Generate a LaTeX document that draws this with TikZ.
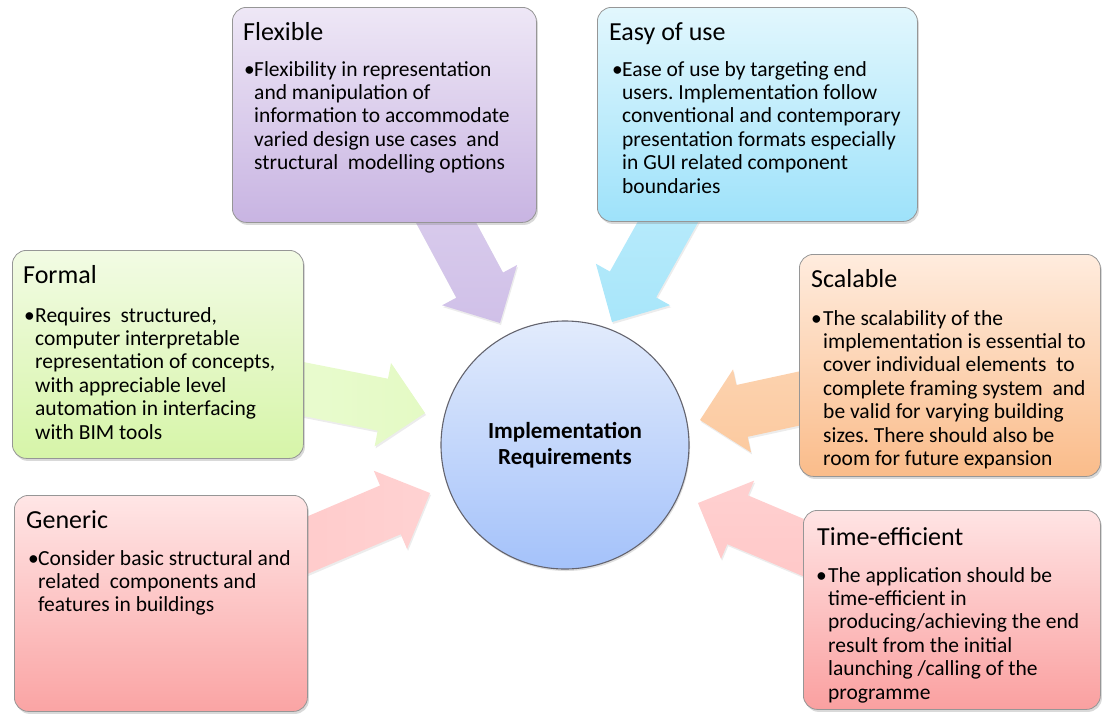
\documentclass[tikz,border=0pt]{standalone}
\usepackage{fontspec}
\setmainfont{Carlito}
\usetikzlibrary{calc,shadows}
\frenchspacing
\definecolor{boxline}{RGB}{150,150,150}
\definecolor{flexT}{RGB}{238,231,246}
\definecolor{flexB}{RGB}{200,180,226}
\definecolor{flexA}{RGB}{208,192,232}
\definecolor{easyT}{RGB}{226,247,253}
\definecolor{easyB}{RGB}{158,226,250}
\definecolor{easyA}{RGB}{168,230,250}
\definecolor{formT}{RGB}{242,251,228}
\definecolor{formB}{RGB}{214,245,168}
\definecolor{formA}{RGB}{228,250,196}
\definecolor{scalT}{RGB}{255,236,222}
\definecolor{scalB}{RGB}{250,188,138}
\definecolor{scalA}{RGB}{252,202,160}
\definecolor{geneT}{RGB}{255,230,230}
\definecolor{geneB}{RGB}{250,164,164}
\definecolor{geneA}{RGB}{255,202,202}
\definecolor{timeT}{RGB}{255,228,228}
\definecolor{timeB}{RGB}{250,160,160}
\definecolor{timeA}{RGB}{255,200,200}
\definecolor{circT}{RGB}{226,235,252}
\definecolor{circB}{RGB}{164,194,250}
\definecolor{circL}{RGB}{100,100,110}
\newcommand\btext[1]{\parbox[t]{330pt}{\raggedright\frenchspacing #1}}
\newcommand\blockarrow[3]{%
  \coordinate (#1-neck) at ($(#2)!43pt!(#1)$);
  \path[#3] ($(#1)!26.5pt!90:(#2)$)
    -- ($(#1-neck)!26.5pt!-90:(#1)$)
    -- ($(#1-neck)!42.5pt!-90:(#1)$)
    -- (#2)
    -- ($(#1-neck)!42.5pt!90:(#1)$)
    -- ($(#1-neck)!26.5pt!90:(#1)$)
    -- ($(#1)!26.5pt!-90:(#2)$) -- cycle;}
\begin{document}
\begin{tikzpicture}[x=1pt,y=-1pt,
  box/.style={draw=boxline, line width=0.8pt, rounded corners=14pt, anchor=north west,
    inner sep=0pt, drop shadow={opacity=0.3, shadow xshift=1.5pt, shadow yshift=-2.5pt}},
  ttl/.style={anchor=base west, inner sep=0pt, font=\fontsize{26}{30}\selectfont},
  bul/.style={anchor=base west, inner sep=0pt, font=\fontsize{21.5}{23.4}\selectfont},
  body/.style={anchor=base west, inner sep=0pt, font=\fontsize{21.5}{23.4}\selectfont},
  arr/.style={drop shadow={opacity=0.15, shadow xshift=1pt, shadow yshift=-2pt}},
]
\useasboundingbox (0,0) rectangle (1102,713);
% arrow tails and tips
\coordinate (fT) at (436,204);  \coordinate (fH) at (500,323);
\coordinate (eT) at (678,204);  \coordinate (eH) at (612,322);
\coordinate (oT) at (283,385);  \coordinate (oH) at (425,413);
\coordinate (gT) at (289,553);  \coordinate (gH) at (430,493);
\coordinate (sT) at (820,394);  \coordinate (sH) at (700,420);
\coordinate (tT) at (821,555);  \coordinate (tH) at (698,503);
\blockarrow{fT}{fH}{arr, top color=flexA!80!white, bottom color=flexA}
\blockarrow{eT}{eH}{arr, top color=easyA!80!white, bottom color=easyA}
\blockarrow{oT}{oH}{arr, left color=formA!80!white, right color=formA}
\blockarrow{gT}{gH}{arr, left color=geneA, right color=geneA!85!white}
\blockarrow{sT}{sH}{arr, top color=scalA!85!white, bottom color=scalA}
\blockarrow{tT}{tH}{arr, top color=timeA!85!white, bottom color=timeA}
% centre circle
\node[circle, minimum size=248pt, draw=circL, line width=1.1pt, top color=circT, bottom color=circB,
  font=\fontsize{23}{26}\selectfont\bfseries, align=center,
  drop shadow={opacity=0.25, shadow xshift=1pt, shadow yshift=-2pt}] (hub) at (565,445)
  {Implementation\\Requirements};
% boxes
\node[box, minimum width=304pt, minimum height=215pt, top color=flexT, bottom color=flexB] (flex) at (232,7) {};
\node[box, minimum width=320pt, minimum height=214pt, top color=easyT, bottom color=easyB] (easy) at (597,7) {};
\node[box, minimum width=291pt, minimum height=208pt, top color=formT, bottom color=formB] (form) at (12,250) {};
\node[box, minimum width=301pt, minimum height=222pt, top color=scalT, bottom color=scalB] (scal) at (799,254) {};
\node[box, minimum width=293pt, minimum height=216pt, top color=geneT, bottom color=geneB] (gene) at (14,495) {};
\node[box, minimum width=297pt, minimum height=199pt, top color=timeT, bottom color=timeB] (time) at (803,510) {};
% titles
\node[ttl] (flexttl) at ($(flex.north west)+(11,33)$) {Flexible};
\node[ttl] (easyttl) at ($(easy.north west)+(12,33)$) {Easy of use};
\node[ttl] (formttl) at ($(form.north west)+(11,33)$) {Formal};
\node[ttl] (scalttl) at ($(scal.north west)+(12,33)$) {Scalable};
\node[ttl] (genettl) at ($(gene.north west)+(12,33)$) {Generic};
\node[ttl] (timettl) at ($(time.north west)+(14,35)$) {Time-efficient};
% bullets
\node[bul] (flexbul) at ($(flex.north west)+(12,69)$) {•};
\node[bul] (easybul) at ($(easy.north west)+(15,69)$) {•};
\node[bul] (formbul) at ($(form.north west)+(12,72)$) {•};
\node[bul] (scalbul) at ($(scal.north west)+(12,71)$) {•};
\node[bul] (genebul) at ($(gene.north west)+(14,70)$) {•};
\node[bul] (timebul) at ($(time.north west)+(13,72)$) {•};
% body texts
\node[body] (flexbody) at ($(flex.north west)+(22,69)$) {\btext{Flexibility in representation\\and manipulation of\\information to accommodate\\varied design use cases\ \ and\\structural\ \ modelling options}};
\node[body] (easybody) at ($(easy.north west)+(25,69)$) {\btext{Ease of use by targeting end\\users. Implementation follow\\conventional and contemporary\\presentation formats especially\\in GUI related component\\boundaries}};
\node[body] (formbody) at ($(form.north west)+(23,72)$) {\btext{Requires\ \ structured,\\computer interpretable\\representation of concepts,\\with appreciable level\\automation in interfacing\\with BIM tools}};
\node[body] (scalbody) at ($(scal.north west)+(24,71)$) {\btext{The scalability of the\\implementation is essential to\\cover individual elements\ \ to\\complete framing system\ \ and\\be valid for varying building\\sizes. There should also be\\room for future expansion}};
\node[body] (genebody) at ($(gene.north west)+(24,70)$) {\btext{Consider basic structural and\\related\ \ components and\\features in buildings}};
\node[body] (timebody) at ($(time.north west)+(25,72)$) {\btext{The application should be\\time-efficient in\\producing/achieving the end\\result from the initial\\launching /calling of the\\programme}};
\end{tikzpicture}
\end{document}
